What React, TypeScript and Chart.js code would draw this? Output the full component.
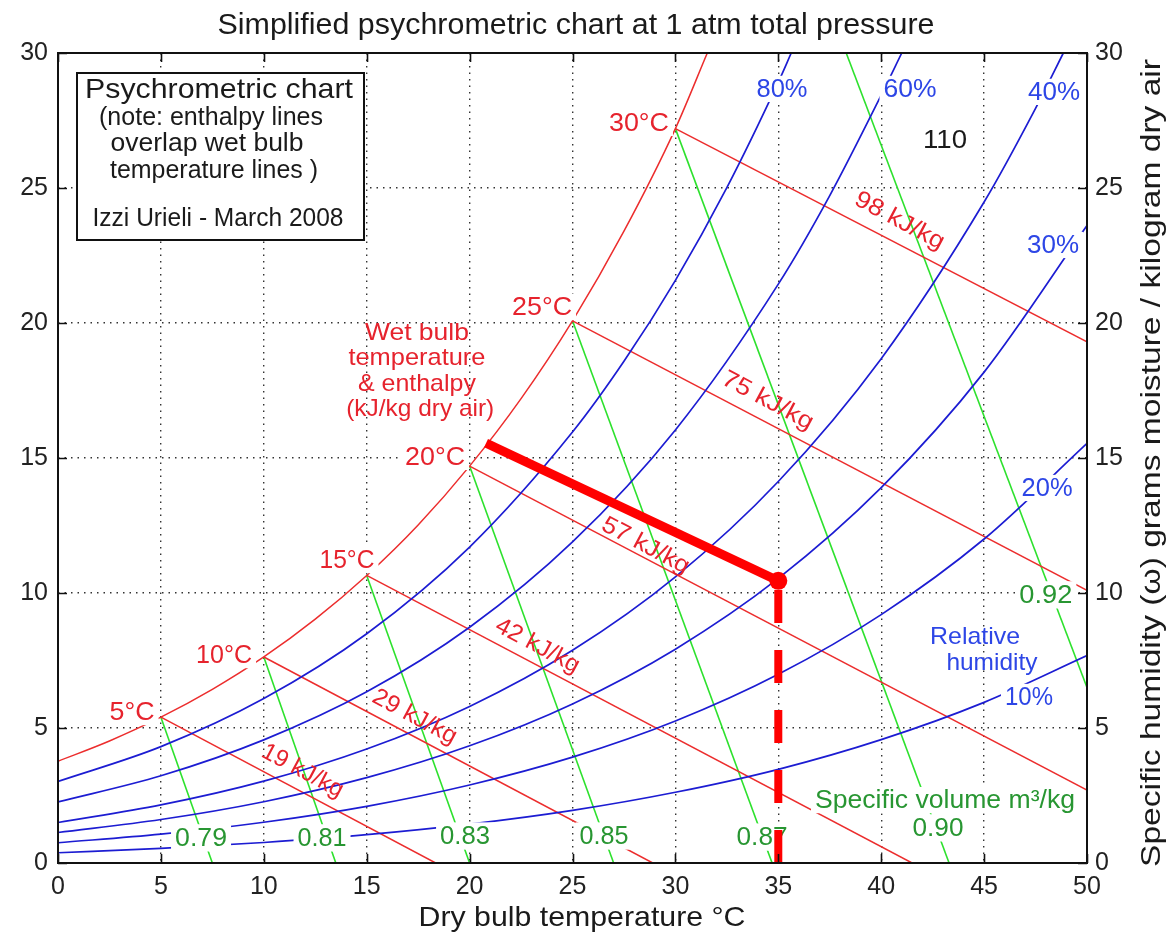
import React, { useEffect, useRef } from "react";
import { Chart, registerables } from "chart.js";
Chart.register(...registerables);

const FONT = '"Liberation Sans", Arial, Helvetica, sans-serif';

// Axis ticks
const X_TICKS = [0, 5, 10, 15, 20, 25, 30, 35, 40, 45, 50];
const Y_TICKS = [0, 5, 10, 15, 20, 25, 30];

// Saturation curve (100% RH) - dry bulb (°C) / humidity (g/kg)
const T_SAT = [0, 2.5, 5, 7.5, 10, 12.5, 15, 17.5, 20, 22.5, 25, 27.5, 30, 31.55];
const W_SAT = [3.77, 4.52, 5.4, 6.43, 7.63, 9.03, 10.65, 12.52, 14.7, 17.2, 20.08, 23.4, 27.2, 30.0];

// Relative humidity curves
const T_RH80 = [0, 5, 10, 15, 20, 25, 27.5, 30, 32.5, 35, 35.63];
const W_RH80 = [3.02, 4.31, 6.09, 8.49, 11.7, 15.96, 18.58, 21.58, 25.01, 28.92, 30.0];
const T_RH60 = [0, 5, 10, 15, 20, 25, 30, 35, 37.5, 40, 41.0];
const W_RH60 = [2.26, 3.23, 4.56, 6.34, 8.73, 11.89, 16.04, 21.44, 24.72, 28.44, 30.0];
const T_RH40 = [0, 5, 10, 15, 20, 25, 30, 35, 40, 45, 47.5, 48.85];
const W_RH40 = [1.5, 2.15, 3.03, 4.22, 5.8, 7.88, 10.6, 14.13, 18.68, 24.48, 27.95, 30.0];
const T_FULL = [0, 5, 10, 15, 20, 25, 30, 35, 40, 45, 50];
const W_RH30 = [1.13, 1.61, 2.27, 3.16, 4.34, 5.89, 7.92, 10.54, 13.9, 18.18, 23.61];
const W_RH20 = [0.75, 1.07, 1.51, 2.1, 2.89, 3.92, 5.26, 6.99, 9.2, 12.0, 15.54];
const W_RH10 = [0.38, 0.54, 0.76, 1.05, 1.44, 1.95, 2.62, 3.47, 4.57, 5.95, 7.68];

// Wet bulb / enthalpy lines (start and end points)
const ENTH_T0 = [5, 10, 15, 20, 25, 30];
const ENTH_W0 = [5.4, 7.63, 10.65, 14.7, 20.08, 27.2];
const ENTH_T1 = [18.35, 28.9, 41.5, 50, 50, 50];
const ENTH_W1 = [0, 0, 0, 2.7, 10.1, 19.3];

// Specific volume lines (start and end points)
const VOL_T0 = [5, 10, 15, 20, 25, 30, 38.3];
const VOL_W0 = [5.4, 7.63, 10.65, 14.7, 20.08, 27.2, 30];
const VOL_T1 = [7.5, 13.5, 20.0, 27.0, 34.7, 43.3, 50];
const VOL_W1 = [0, 0, 0, 0, 0, 0, 6.5];

// Highlighted process
const PROCESS_T = [20.8, 35];
const PROCESS_W = [15.55, 10.45];
const DROP_T = [35, 35];
const DROP_W = [0, 10.45];
const POINT_T = [35];
const POINT_W = [10.45];

const BLUE = "rgb(28,28,210)";
const RED = "rgb(236,45,45)";
const GREEN = "rgb(45,225,45)";
const BLUE_TXT = "rgb(45,70,230)";
const GREEN_TXT = "rgb(40,150,50)";
const RED_TXT = "rgb(230,35,45)";
const BLACK_TXT = "#1a1a1a";

type Lbl = { s: string; x: number; y: number; size: number; w?: number; color: string; bg?: boolean; rot?: number };
const ROT = (28 * Math.PI) / 180;

const LABELS: Lbl[] = [
  { s: "80%", x: 35.18, y: 28.67, size: 25, w: 51, color: BLUE_TXT, bg: true },
  { s: "60%", x: 41.4, y: 28.67, size: 25, w: 53, color: BLUE_TXT, bg: true },
  { s: "40%", x: 48.4, y: 28.56, size: 25, w: 52, color: BLUE_TXT, bg: true },
  { s: "30%", x: 48.35, y: 22.89, size: 25, w: 52, color: BLUE_TXT, bg: true },
  { s: "20%", x: 48.06, y: 13.89, size: 25, w: 51, color: BLUE_TXT, bg: true },
  { s: "10%", x: 47.18, y: 6.15, size: 25, w: 48, color: BLUE_TXT, bg: true },
  { s: "Relative", x: 44.56, y: 8.41, size: 24, w: 90, color: BLUE_TXT },
  { s: "humidity", x: 45.38, y: 7.44, size: 24, w: 91, color: BLUE_TXT },
  { s: "0.79", x: 6.95, y: 0.93, size: 26, w: 52, color: GREEN_TXT, bg: true },
  { s: "0.81", x: 12.83, y: 0.93, size: 26, w: 49, color: GREEN_TXT, bg: true },
  { s: "0.83", x: 19.78, y: 1.0, size: 26, w: 50, color: GREEN_TXT, bg: true },
  { s: "0.85", x: 26.53, y: 1.0, size: 26, w: 49, color: GREEN_TXT, bg: true },
  { s: "0.87", x: 34.21, y: 0.96, size: 26, w: 51, color: GREEN_TXT, bg: true },
  { s: "0.90", x: 42.76, y: 1.3, size: 26, w: 51, color: GREEN_TXT, bg: true },
  { s: "0.92", x: 48.0, y: 9.93, size: 26, w: 53, color: GREEN_TXT, bg: true },
  { s: "Specific volume m³/kg", x: 43.1, y: 2.33, size: 25, w: 260, color: GREEN_TXT, bg: true },
  { s: "5°C", x: 3.6, y: 5.59, size: 25, w: 45, color: RED_TXT, bg: true },
  { s: "10°C", x: 8.07, y: 7.7, size: 25, w: 56, color: RED_TXT, bg: true },
  { s: "15°C", x: 14.04, y: 11.22, size: 25, w: 55, color: RED_TXT, bg: true },
  { s: "20°C", x: 18.32, y: 15.04, size: 25, w: 60, color: RED_TXT, bg: true },
  { s: "25°C", x: 23.52, y: 20.59, size: 25, w: 60, color: RED_TXT, bg: true },
  { s: "30°C", x: 28.23, y: 27.41, size: 25, w: 60, color: RED_TXT, bg: true },
  { s: "Wet bulb", x: 17.44, y: 19.67, size: 24, w: 104, color: RED_TXT },
  { s: "temperature", x: 17.44, y: 18.74, size: 24, w: 137, color: RED_TXT },
  { s: "& enthalpy", x: 17.44, y: 17.78, size: 24, w: 118, color: RED_TXT },
  { s: "(kJ/kg dry air)", x: 17.6, y: 16.85, size: 24, w: 148, color: RED_TXT },
  { s: "19 kJ/kg", x: 11.9, y: 3.44, size: 24, w: 89, color: RED_TXT, rot: ROT },
  { s: "29 kJ/kg", x: 17.35, y: 5.44, size: 24, w: 92, color: RED_TXT, rot: ROT },
  { s: "42 kJ/kg", x: 23.32, y: 8.07, size: 24, w: 92, color: RED_TXT, rot: ROT },
  { s: "57 kJ/kg", x: 28.57, y: 11.78, size: 24, w: 96, color: RED_TXT, rot: ROT },
  { s: "75 kJ/kg", x: 34.5, y: 17.15, size: 24, w: 100, color: RED_TXT, rot: ROT },
  { s: "98 kJ/kg", x: 40.91, y: 23.81, size: 24, w: 98, color: RED_TXT, rot: ROT },
  { s: "110", x: 43.1, y: 26.78, size: 25, w: 44, color: BLACK_TXT },
];

function drawText(ctx: CanvasRenderingContext2D, s: string, x: number, y: number, size: number, color: string, w?: number, rot?: number, bg?: boolean) {
  ctx.save();
  ctx.translate(x, y);
  if (rot) ctx.rotate(rot);
  ctx.font = `${size}px ${FONT}`;
  const m = ctx.measureText(s).width;
  const sx = w ? w / m : 1;
  const tw = m * sx;
  if (bg) {
    ctx.fillStyle = "#fff";
    const h = size * 1.05;
    ctx.fillRect(-tw / 2 - 4, -h / 2, tw + 8, h);
  }
  ctx.scale(sx, 1);
  ctx.fillStyle = color;
  ctx.textAlign = "center";
  ctx.textBaseline = "middle";
  ctx.fillText(s, 0, 1);
  ctx.restore();
}

const pts = (ts: number[], ws: number[]) => ts.map((t, i) => ({ x: t, y: ws[i] }));

const overlay = {
  id: "overlay",
  beforeDatasetsDraw(chart: any) {
    chart.$lblDone = false;
  },
  beforeDatasetDraw(chart: any, args: any) {
    const ds = chart.data.datasets[args.index];
    if (ds.thick && !chart.$lblDone) {
      chart.$lblDone = true;
      const ctx: CanvasRenderingContext2D = chart.ctx;
      const xs = chart.scales.x;
      const ys = chart.scales.y;
      ctx.save();
      const a = chart.chartArea;
      ctx.beginPath();
      ctx.rect(a.left, a.top, a.right - a.left, a.bottom - a.top);
      ctx.clip();
      for (const l of LABELS) {
        drawText(ctx, l.s, xs.getPixelForValue(l.x), ys.getPixelForValue(l.y), l.size, l.color, l.w, l.rot, l.bg);
      }
      // note box
      ctx.fillStyle = "#fff";
      ctx.fillRect(77, 73, 287, 167);
      ctx.strokeStyle = "#111";
      ctx.lineWidth = 2;
      ctx.strokeRect(77, 73, 287, 167);
      drawText(ctx, "Psychrometric chart", 219, 89, 28, BLACK_TXT, 268);
      drawText(ctx, "(note: enthalpy lines", 211, 117, 25, BLACK_TXT, 224);
      drawText(ctx, "overlap wet bulb", 207, 143, 25, BLACK_TXT, 193);
      drawText(ctx, "temperature lines )", 214, 170, 25, BLACK_TXT, 208);
      drawText(ctx, "Izzi Urieli - March 2008", 218, 218, 25, BLACK_TXT, 251);
      ctx.restore();
    }
  },
  afterDraw(chart: any) {
    const ctx: CanvasRenderingContext2D = chart.ctx;
    const a = chart.chartArea;
    const xs = chart.scales.x;
    const ys = chart.scales.y;
    ctx.save();
    ctx.strokeStyle = "#111";
    ctx.lineWidth = 2;
    ctx.strokeRect(a.left, a.top, a.right - a.left, a.bottom - a.top);
    ctx.lineWidth = 1.6;
    const tl = 9;
    ctx.beginPath();
    for (const v of X_TICKS) {
      const px = Math.round(xs.getPixelForValue(v)) + 0.5;
      ctx.moveTo(px, a.bottom);
      ctx.lineTo(px, a.bottom - tl);
      ctx.moveTo(px, a.top);
      ctx.lineTo(px, a.top + tl);
    }
    for (const v of Y_TICKS) {
      const py = Math.round(ys.getPixelForValue(v)) + 0.5;
      ctx.moveTo(a.left, py);
      ctx.lineTo(a.left + tl, py);
      ctx.moveTo(a.right, py);
      ctx.lineTo(a.right - tl, py);
    }
    ctx.stroke();
    drawText(ctx, "Simplified psychrometric chart at 1 atm total pressure", 576, 25, 29, BLACK_TXT, 717);
    drawText(ctx, "Dry bulb temperature °C", 582, 917, 28, BLACK_TXT, 327);
    drawText(ctx, "Specific humidity (ω) grams moisture / kilogram dry air", 1152, 463, 27, BLACK_TXT, 808, -Math.PI / 2);
    ctx.restore();
  },
};

export default function App() {
  const ref = useRef<HTMLCanvasElement | null>(null);
  useEffect(() => {
    document.body.style.margin = "0";
    document.body.style.overflow = "hidden";
    const canvas = ref.current!;
    const thin = (data: any[], color: string, width: number, smooth = false) => ({
      data,
      borderColor: color,
      borderWidth: width,
      pointRadius: 0,
      fill: false,
      cubicInterpolationMode: smooth ? "monotone" : "default",
      order: 1,
    });
    const datasets: any[] = [];
    datasets.push(thin(pts(T_SAT, W_SAT), RED, 1.5, true));
    datasets.push(thin(pts(T_RH80, W_RH80), BLUE, 1.7, true));
    datasets.push(thin(pts(T_RH60, W_RH60), BLUE, 1.7, true));
    datasets.push(thin(pts(T_RH40, W_RH40), BLUE, 1.7, true));
    datasets.push(thin(pts(T_FULL, W_RH30), BLUE, 1.7, true));
    datasets.push(thin(pts(T_FULL, W_RH20), BLUE, 1.7, true));
    datasets.push(thin(pts(T_FULL, W_RH10), BLUE, 1.7, true));
    ENTH_T0.forEach((t, i) => datasets.push(thin(pts([t, ENTH_T1[i]], [ENTH_W0[i], ENTH_W1[i]]), RED, 1.5)));
    VOL_T0.forEach((t, i) => datasets.push(thin(pts([t, VOL_T1[i]], [VOL_W0[i], VOL_W1[i]]), GREEN, 1.6)));
    datasets.push({
      data: pts(PROCESS_T, PROCESS_W),
      borderColor: "rgb(255,0,0)",
      borderWidth: 9,
      pointRadius: 0,
      borderCapStyle: "butt",
      order: 0,
      thick: true,
    });
    datasets.push({
      data: pts(DROP_T, DROP_W),
      borderColor: "rgb(255,0,0)",
      borderWidth: 8,
      borderDash: [33, 27],
      borderCapStyle: "butt",
      pointRadius: 0,
      order: 0,
      thick: true,
    });
    datasets.push({
      data: pts(POINT_T, POINT_W),
      showLine: false,
      pointRadius: 9,
      pointBackgroundColor: "rgb(255,0,0)",
      pointBorderWidth: 0,
      order: 0,
      thick: true,
    });

    const tickFont = { family: FONT, size: 25 };
    const chart = new Chart(canvas, {
      type: "line",
      data: { datasets },
      options: {
        responsive: false,
        animation: false,
        events: [],
        layout: { padding: { top: 53, left: 0, right: 0, bottom: 0 } },
        plugins: { legend: { display: false }, tooltip: { enabled: false }, title: { display: false } },
        scales: {
          x: {
            type: "linear",
            min: 0,
            max: 50,
            afterBuildTicks: (s: any) => {
              s.ticks = X_TICKS.map((v) => ({ value: v }));
            },
            afterFit: (s: any) => {
              s.height = 78;
            },
            ticks: { font: tickFont, color: "#222", padding: 9, autoSkip: false, maxRotation: 0 },
            grid: { color: "#333", lineWidth: 1.4, drawTicks: false },
            border: { display: false, dash: [1.5, 5] },
          },
          y: {
            type: "linear",
            position: "left",
            min: 0,
            max: 30,
            afterBuildTicks: (s: any) => {
              s.ticks = Y_TICKS.map((v) => ({ value: v }));
            },
            afterFit: (s: any) => {
              s.width = 58;
            },
            ticks: { font: tickFont, color: "#222", padding: 10, autoSkip: false },
            grid: { color: "#333", lineWidth: 1.4, drawTicks: false },
            border: { display: false, dash: [1.5, 5] },
          },
          y2: {
            type: "linear",
            position: "right",
            min: 0,
            max: 30,
            afterBuildTicks: (s: any) => {
              s.ticks = Y_TICKS.map((v) => ({ value: v }));
            },
            afterFit: (s: any) => {
              s.width = 84;
            },
            ticks: { font: tickFont, color: "#222", padding: 8, autoSkip: false },
            grid: { display: false, drawTicks: false },
            border: { display: false },
          },
        },
      } as any,
      plugins: [overlay as any],
    });
    return () => chart.destroy();
  }, []);
  return <canvas ref={ref} width={1171} height={941} style={{ display: "block", width: 1171, height: 941 }} />;
}
